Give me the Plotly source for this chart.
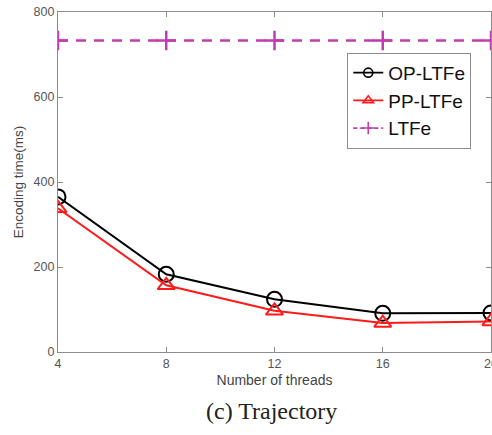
import plotly.graph_objects as go

threads = [4, 8, 12, 16, 20]
op_ltfe = [365, 183, 124, 91, 92]
pp_ltfe = [338, 157, 97, 68, 72]
ltfe = [733, 733, 733, 733, 733]

x_ticks = [4, 8, 12, 16, 20]
y_ticks = [0, 200, 400, 600, 800]

series = [
    dict(name="OP-LTFe", y=op_ltfe, color="#000000", symbol="circle-open", size=15, width=2, dash="solid"),
    dict(name="PP-LTFe", y=pp_ltfe, color="#ff1a1a", symbol="triangle-up-open", size=15, width=2, dash="solid"),
    dict(name="LTFe", y=ltfe, color="#c23cae", symbol="cross-thin-open", size=14, width=2.5, dash="10px,8px"),
]

fig = go.Figure()

# plotted series (legend entries drawn separately with smaller symbols)
for s in series:
    fig.add_trace(go.Scatter(
        x=threads, y=s["y"], name=s["name"], mode="lines+markers", showlegend=False,
        line=dict(color=s["color"], width=s["width"], dash=s["dash"]),
        marker=dict(symbol=s["symbol"], size=s["size"], color=s["color"],
                    line=dict(width=s["width"], color=s["color"])),
    ))

# legend keys with compact markers
for s in series:
    fig.add_trace(go.Scatter(
        x=[None], y=[None], name=s["name"], mode="lines+markers",
        line=dict(color=s["color"], width=1.8, dash="solid" if s["dash"] == "solid" else "4px,3px"),
        marker=dict(symbol=s["symbol"], size=9, color=s["color"],
                    line=dict(width=1.6, color=s["color"])),
    ))

axis_common = dict(
    showline=True, linecolor="#8c8c8c", linewidth=1.2, mirror="ticks",
    ticks="inside", ticklen=5, tickcolor="#8c8c8c",
    showgrid=False, zeroline=False, automargin=False,
    tickfont=dict(family="Liberation Sans, Arial, sans-serif", size=12.5, color="#555555"),
)

fig.update_xaxes(
    range=[4, 20], tickvals=x_ticks, ticktext=[str(v) for v in x_ticks],
    ticklabeloverflow="allow",
    title=dict(text="Number of threads", standoff=5,
               font=dict(family="Liberation Sans, Arial, sans-serif", size=14, color="#444444")),
    **axis_common,
)
fig.update_yaxes(
    range=[0, 800], tickvals=y_ticks, ticktext=[str(v) for v in y_ticks],
    title=dict(text="Encoding time(ms)", standoff=6,
               font=dict(family="Liberation Sans, Arial, sans-serif", size=13.5, color="#444444")),
    **axis_common,
)

fig.add_annotation(
    text="(c) Trajectory", x=0.492, y=-0.13, xref="paper", yref="paper",
    xanchor="center", yanchor="top", showarrow=False,
    font=dict(family="Liberation Serif, Times New Roman, serif", size=24, color="#222222"),
)

fig.update_layout(
    width=492, height=435,
    margin=dict(l=58, r=1, t=12, b=83),
    plot_bgcolor="white", paper_bgcolor="white",
    showlegend=True,
    legend=dict(
        x=0.668, y=0.88, xanchor="left", yanchor="top",
        bgcolor="white", bordercolor="#8c8c8c", borderwidth=1,
        font=dict(family="Liberation Sans, Arial, sans-serif", size=19, color="#111111"),
        itemwidth=30, tracegroupgap=0,
    ),
)

fig.write_html("out.html")
